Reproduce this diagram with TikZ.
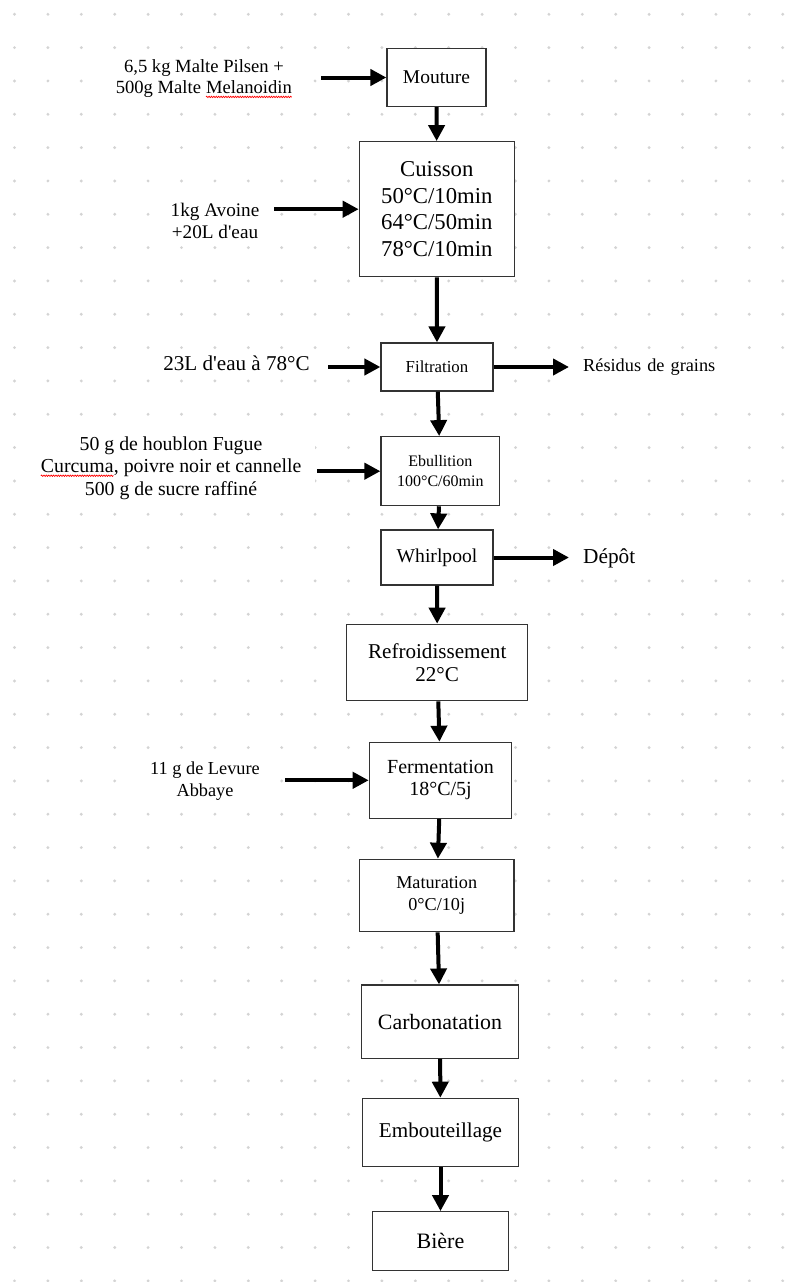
\documentclass[tikz,border=0pt]{standalone}
\usepackage{fontspec}
\setmainfont{Liberation Serif}
\usetikzlibrary{arrows.meta,decorations.pathmorphing}

\newcommand\txtsize[2]{\fontsize{#1}{#2}\selectfont}
\newcommand\spellerr[1]{\tikz[baseline=(w.base)]{\node[inner sep=0pt,outer sep=0pt] (w) {#1};
	\draw[red,line width=0.7pt,decorate,decoration={zigzag,amplitude=0.7pt,segment length=2.4pt}]
		([yshift=-3pt]w.base west) -- ([yshift=-3pt]w.base east);}}

\begin{document}
\begin{tikzpicture}[x=1pt,y=-1pt,
	procbox/.style={draw=black!80,line width=1.2pt,fill=white,inner sep=0pt,align=center},
	lbl/.style={fill=white,inner xsep=14pt,inner ysep=6pt,align=center},
	outlbl/.style={fill=white,anchor=west,text width=200pt,align=left,inner xsep=18pt,inner ysep=8pt},
	flow/.style={line width=4pt,-{Triangle[length=16pt,width=16pt]}}]

\useasboundingbox (0,0) rectangle (811,1282);
\fill[white] (0,0) rectangle (811,1282);

% dotted page grid
\foreach \i in {0,...,23}
	\foreach \j in {0,...,38}
		\fill[black!17] (14.5+33.4*\i,14.3+33.33*\j) circle[radius=1.6pt];

% process steps
\node[procbox,minimum width=99pt,minimum height=58pt,font={\txtsize{19.5}{23}}]
	(mout) at (436.5,77.5) {Mouture};
\node[procbox,minimum width=155pt,minimum height=135pt,font={\txtsize{22.7}{26.7}}]
	(cuis) at (436.8,209.2) {Cuisson\\50°C/10min\\64°C/50min\\78°C/10min};
\node[procbox,minimum width=112pt,minimum height=48pt,font={\txtsize{16.8}{20}}]
	(filt) at (437,367) {Filtration};
\node[procbox,minimum width=118.6pt,minimum height=69pt,font={\txtsize{16}{20}}]
	(ebul) at (440.3,471.2) {Ebullition\\100°C/60min};
\node[procbox,minimum width=112pt,minimum height=55pt,font={\txtsize{19.6}{23}}]
	(whirl) at (437,557.5) {Whirlpool};
\node[procbox,minimum width=181pt,minimum height=76.4pt,font={\txtsize{21.1}{23.3}}]
	(refr) at (437.2,662.5) {Refroidissement\\22°C};
\node[procbox,minimum width=142.4pt,minimum height=76pt,font={\txtsize{20}{21.7}}]
	(ferm) at (440.5,780.3) {Fermentation\\18°C/5j};
\node[procbox,minimum width=154.7pt,minimum height=72.4pt,font={\txtsize{18.2}{21.7}}]
	(matu) at (436.7,895.5) {Maturation\\0°C/10j};
\node[procbox,minimum width=156.6pt,minimum height=73.3pt,font={\txtsize{21.9}{25}}]
	(carb) at (440,1021.7) {Carbonatation};
\node[procbox,minimum width=155.6pt,minimum height=68.4pt,font={\txtsize{21.1}{25}}]
	(embo) at (440.5,1132.5) {Embouteillage};
\node[procbox,minimum width=136pt,minimum height=59pt,font={\txtsize{22}{25}}]
	(biere) at (440.5,1241.2) {Bière};

% inputs and outputs
\node[lbl,font={\txtsize{18.6}{21}}] (lblmout) at (204,79)
	{6,5 kg Malte Pilsen +\\500g Malte \spellerr{Melanoidin}};
\node[lbl,font={\txtsize{19.2}{21.7}}] (lblcuis) at (215,221)
	{1kg Avoine\\+20L d\textquotesingle eau};
\node[lbl,font={\txtsize{21.1}{24}}] (lblfilt) at (236.5,363)
	{23L d\textquotesingle eau à 78°C};
\node[outlbl,font={\txtsize{18.3}{21}}] (lblres) at (565,367)
	{Résidus de grains};
\node[lbl,font={\txtsize{19.8}{22.5}}] (lblebul) at (171,468)
	{50 g de houblon Fugue\\\spellerr{Curcuma}, poivre noir et cannelle\\500 g de sucre raffiné};
\node[outlbl,font={\txtsize{21.3}{24}}] (lbldepot) at (565,558)
	{Dépôt};
\node[lbl,font={\txtsize{18.3}{21.7}}] (lblferm) at (205,781)
	{11 g de Levure\\Abbaye};

\coordinate (inmout) at (321,77.5);
\coordinate (incuis) at (274,209.2);
\coordinate (infilt) at (328,367);
\coordinate (outfilt) at (569,367);
\coordinate (inebul) at (317,471.2);
\coordinate (outwhirl) at (569,557.5);
\coordinate (inferm) at (285,780.3);

% arrows
\draw[flow] (inmout) -- (mout);
\draw[flow] (incuis) -- (cuis);
\draw[flow] (infilt) -- (filt);
\draw[flow] (filt) -- (outfilt);
\draw[flow] (inebul) -- (ebul);
\draw[flow] (whirl) -- (outwhirl);
\draw[flow] (inferm) -- (ferm);

\draw[flow] (mout) -- (cuis);
\draw[flow] (cuis) -- (filt);
\draw[flow] (filt) -- (ebul);
\draw[flow] (ebul) -- (whirl);
\draw[flow] (whirl) -- (refr);
\draw[flow] (refr) -- (ferm);
\draw[flow] (ferm) -- (matu);
\draw[flow] (matu) -- (carb);
\draw[flow] (carb) -- (embo);
\draw[flow] (embo) -- (biere);

\end{tikzpicture}
\end{document}
